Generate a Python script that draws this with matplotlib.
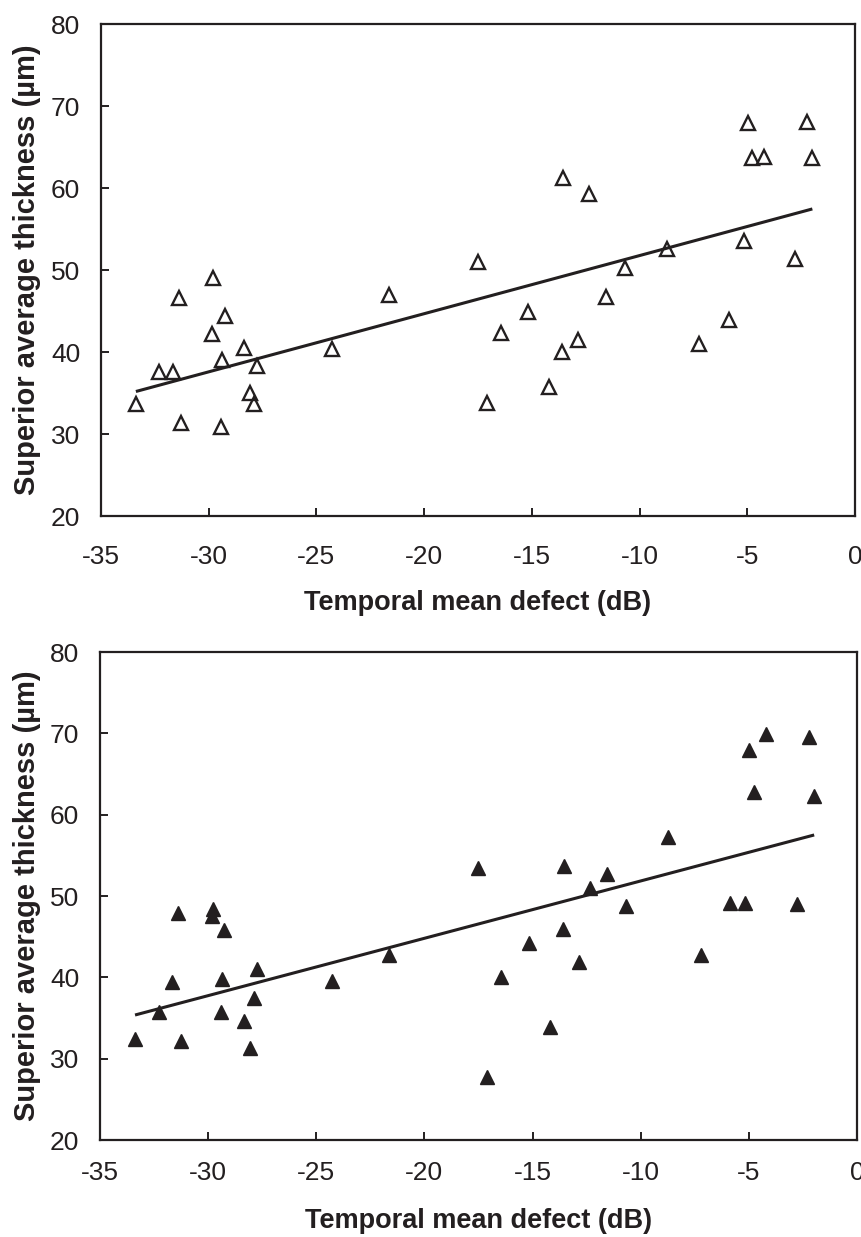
import matplotlib
matplotlib.use("Agg")
import matplotlib.pyplot as plt
import numpy as np

plt.rcParams['font.family'] = ['Liberation Sans', 'DejaVu Sans']

# Temporal mean defect (dB), shared by both panels
temporal_md = [-33.38, -32.29, -31.66, -31.38, -31.27, -29.78, -29.83, -29.26, -29.38, -29.41,
               -28.36, -27.74, -28.08, -27.89, -24.27, -21.64, -17.51, -17.10, -16.45, -15.16,
               -13.55, -13.60, -12.85, -14.21, -12.33, -11.58, -10.68, -8.73, -7.23, -5.85,
               -5.17, -4.99, -4.77, -4.21, -2.77, -2.21, -1.98]

# Superior average thickness (um), top panel (open triangles)
thickness_top = [33.66, 37.6, 37.6, 46.55, 31.3, 48.99, 42.16, 44.43, 39.02, 30.89,
                 40.45, 38.33, 34.96, 33.62, 40.37, 46.95, 51.01, 33.74, 42.28, 44.91,
                 61.26, 40.04, 41.46, 35.77, 59.23, 46.74, 50.21, 52.52, 40.98, 43.9,
                 53.54, 67.89, 63.7, 63.82, 51.34, 68.09, 63.7]

# Superior average thickness (um), bottom panel (filled triangles)
thickness_bottom = [32.36, 35.7, 39.4, 47.9, 32.15, 48.4, 47.5, 45.85, 39.8, 35.7,
                    34.6, 41.05, 31.35, 37.4, 39.5, 42.7, 53.4, 27.7, 40.1, 44.2,
                    53.75, 45.98, 41.9, 33.9, 50.97, 52.75, 48.75, 57.3, 42.7, 49.2,
                    49.2, 67.9, 62.8, 69.9, 49.05, 69.6, 62.25]

# regression lines (slope, intercept) as drawn
fit_top = [0.709, 58.85]
fit_bottom = [0.705, 58.90]

x_ticks = [-35, -30, -25, -20, -15, -10, -5, 0]
y_ticks = [20, 30, 40, 50, 60, 70, 80]

ink = '#231f20'

fig = plt.figure(figsize=(8.62, 12.37), dpi=100)
W, H = 862, 1237

def make_ax(l, r, t, b):
    return fig.add_axes([l / W, 1 - b / H, (r - l) / W, (b - t) / H])

ax1 = make_ax(101, 855, 24, 516)
ax2 = make_ax(100, 857, 652, 1140)

panels = [
    (ax1, thickness_top, fit_top, 'none', -0.150, -0.0796, 21),
    (ax2, thickness_bottom, fit_bottom, ink, -0.140, -0.078, 15),
]

for ax, ys, fit, face, xl_y, yl_x, xpad in panels:
    ax.plot(temporal_md, ys, linestyle='none', marker='^', markersize=10,
            markerfacecolor=face, markeredgecolor=ink, markeredgewidth=1.7 if face == 'none' else 1.0)
    xs = np.array([min(temporal_md), max(temporal_md)])
    ax.plot(xs, fit[0] * xs + fit[1], color=ink, linewidth=2.2, solid_capstyle='butt')
    ax.set_xlim(-35, 0)
    ax.set_ylim(20, 80)
    ax.set_xticks(x_ticks)
    ax.set_yticks(y_ticks)
    ax.set_xticklabels([str(v) for v in x_ticks])
    ax.set_yticklabels([str(v) for v in y_ticks])
    for s in ax.spines.values():
        s.set_linewidth(1.6)
        s.set_color(ink)
    ax.tick_params(axis='both', direction='in', length=5.5, width=1.4, color=ink,
                   labelsize=19, labelcolor=ink, top=False, right=False)
    ax.tick_params(axis='x', pad=xpad)
    ax.tick_params(axis='y', pad=15)
    ax.set_xlabel('Temporal mean defect (dB)', fontsize=19.5, fontweight='bold', color=ink)
    ax.set_ylabel('Superior average thickness (\u00b5m)', fontsize=21, fontweight='bold', color=ink)
    ax.xaxis.set_label_coords(0.5, xl_y)
    ax.yaxis.set_label_coords(yl_x, 0.5)

fig.savefig('out.png', dpi=100, facecolor='white')
